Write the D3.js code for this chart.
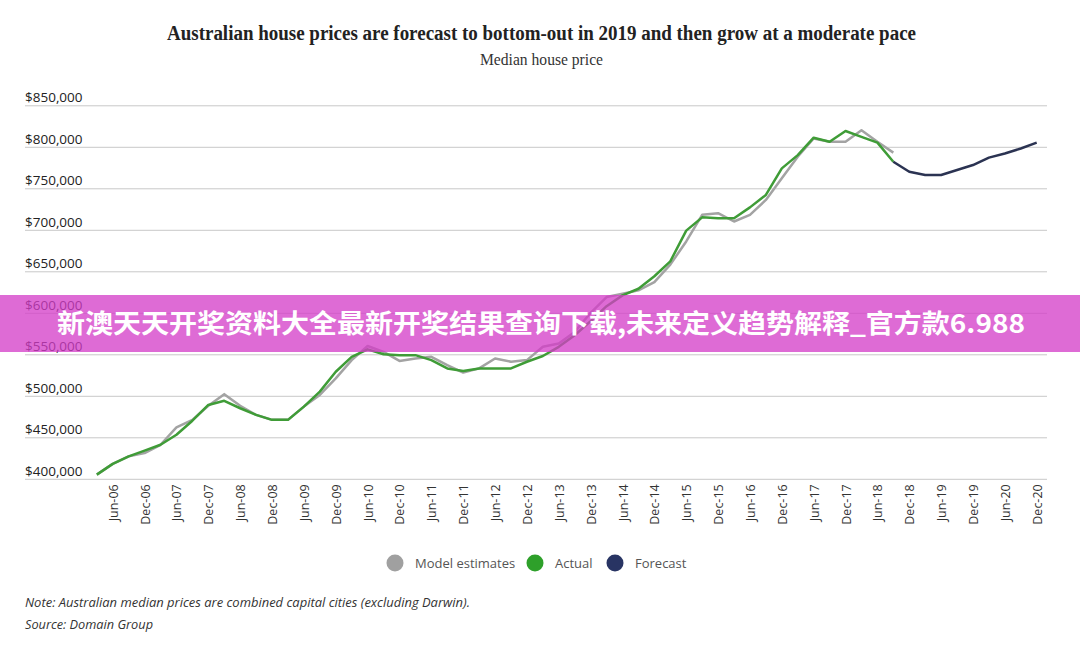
<!DOCTYPE html>
<html>
<head>
<meta charset="utf-8">
<script src="https://cdn.jsdelivr.net/npm/d3@7"></script>
<style>
  html, body { margin: 0; padding: 0; background: #fff; }
  svg { display: block; }
</style>
</head>
<body>
<svg id="chart" width="1080" height="646"></svg>
<script>
// ---------- DATA ----------
const quarters = [
  "Mar-06","Jun-06","Sep-06","Dec-06","Mar-07","Jun-07","Sep-07","Dec-07",
  "Mar-08","Jun-08","Sep-08","Dec-08","Mar-09","Jun-09","Sep-09","Dec-09",
  "Mar-10","Jun-10","Sep-10","Dec-10","Mar-11","Jun-11","Sep-11","Dec-11",
  "Mar-12","Jun-12","Sep-12","Dec-12","Mar-13","Jun-13","Sep-13","Dec-13",
  "Mar-14","Jun-14","Sep-14","Dec-14","Mar-15","Jun-15","Sep-15","Dec-15",
  "Mar-16","Jun-16","Sep-16","Dec-16","Mar-17","Jun-17","Sep-17","Dec-17",
  "Mar-18","Jun-18","Sep-18","Dec-18","Mar-19","Jun-19","Sep-19","Dec-19",
  "Mar-20","Jun-20","Sep-20","Dec-20"
];
const tickLabels = [
  "Jun-06","Dec-06","Jun-07","Dec-07","Jun-08","Dec-08","Jun-09","Dec-09",
  "Jun-10","Dec-10","Jun-11","Dec-11","Jun-12","Dec-12","Jun-13","Dec-13",
  "Jun-14","Dec-14","Jun-15","Dec-15","Jun-16","Dec-16","Jun-17","Dec-17",
  "Jun-18","Dec-18","Jun-19","Dec-19","Jun-20","Dec-20"
];
const yTicks = [400000,450000,500000,550000,600000,650000,700000,750000,800000,850000];

// Model estimates: Mar-06 .. Sep-18
const modelEstimates = [
  405000,418000,427000,431000,441000,462000,471000,488000,
  502000,488000,477000,471000,471000,487000,501000,521000,
  543000,560000,553000,542000,545000,547000,537000,528000,
  533000,545000,541000,543000,559000,563000,577000,600000,
  619000,623000,627000,637000,658000,686000,718000,720000,
  710000,718000,736000,762000,788000,810000,806000,806000,
  820000,806000,793000
];
// Actual: Mar-06 .. Sep-18
const actual = [
  405000,418000,427000,434000,441000,453000,470000,489000,
  494000,485000,477000,471000,471000,487000,505000,529000,
  547000,556000,550000,549000,549000,543000,533000,530000,
  533000,533000,533000,541000,548000,559000,573000,590000,
  608000,621000,629000,644000,662000,699000,715000,714000,
  714000,727000,742000,774000,790000,811000,806000,819000,
  812000,805000,782000
];
// Forecast: Sep-18 .. Dec-20
const forecastQuarters = ["Sep-18","Dec-18","Mar-19","Jun-19","Sep-19","Dec-19","Mar-20","Jun-20","Sep-20","Dec-20"];
const forecast = [782000,770000,766000,766000,772000,778000,787000,792000,798000,805000];

const legendLabels = ["Model estimates","Actual","Forecast"];

// ---------- LAYOUT ----------
const svg = d3.select("#chart");
const W = 1080;
const gridLeft = 25, gridRight = 1047;
const colors = { model: "#a3a3a3", actual: "#3f9c37", forecast: "#2b3352" };
const legendColors = ["#a0a0a0", "#2ea02a", "#283463"];

const x = d3.scalePoint().domain(quarters).range([96.8, 1036.7]).padding(0);
const y = d3.scaleLinear().domain([400000, 850000]).range([478.8, 105.3]);

// Title
svg.append("text")
  .attr("x", 541.5).attr("y", 40)
  .attr("text-anchor", "middle")
  .attr("font-family", "Liberation Serif, serif")
  .attr("font-weight", "bold")
  .attr("font-size", 20)
  .attr("fill", "#222")
  .attr("textLength", 749).attr("lengthAdjust", "spacingAndGlyphs")
  .text("Australian house prices are forecast to bottom-out in 2019 and then grow at a moderate pace");

svg.append("text")
  .attr("x", 541.5).attr("y", 65)
  .attr("text-anchor", "middle")
  .attr("font-family", "Liberation Serif, serif")
  .attr("font-size", 16)
  .attr("fill", "#333")
  .attr("textLength", 123).attr("lengthAdjust", "spacingAndGlyphs")
  .text("Median house price");

// Y axis (gridlines + labels)
const yAxis = d3.axisRight(y)
  .tickValues(yTicks)
  .tickSize(gridRight - gridLeft)
  .tickFormat(d => "$" + d3.format(",")(d));

const gy = svg.append("g")
  .attr("transform", `translate(${gridLeft},0)`)
  .call(yAxis);
gy.select(".domain").remove();
gy.selectAll(".tick line").attr("stroke", "#c8c8c8").attr("stroke-width", 1);
gy.selectAll(".tick text")
  .attr("x", 0).attr("dy", -3.5)
  .attr("text-anchor", "start")
  .attr("dominant-baseline", "alphabetic")
  .attr("font-family", "Open Sans, sans-serif")
  .attr("font-size", 13.5)
  .attr("fill", "#222");

// X axis
const xAxis = d3.axisBottom(x).tickValues(tickLabels).tickSize(0);
const gx = svg.append("g")
  .attr("transform", `translate(0,${y(400000)})`)
  .call(xAxis);
gx.select(".domain").remove();
gx.selectAll(".tick text")
  .attr("transform", "rotate(-90)")
  .attr("x", -5.5).attr("y", 0).attr("dy", "0.36em")
  .attr("text-anchor", "end")
  .attr("font-family", "Open Sans, sans-serif")
  .attr("font-size", 12.5)
  .attr("fill", "#333");

// Lines
const line = d3.line().x(d => x(d.q)).y(d => y(d.v));
const modelData = modelEstimates.map((v, i) => ({ q: quarters[i], v }));
const actualData = actual.map((v, i) => ({ q: quarters[i], v }));
const forecastData = forecast.map((v, i) => ({ q: forecastQuarters[i], v }));

svg.append("path").datum(modelData)
  .attr("d", line).attr("fill", "none")
  .attr("stroke", colors.model).attr("stroke-width", 2.5)
  .attr("stroke-linejoin", "round");
svg.append("path").datum(actualData)
  .attr("d", line).attr("fill", "none")
  .attr("stroke", colors.actual).attr("stroke-width", 2.5)
  .attr("stroke-linejoin", "round");
svg.append("path").datum(forecastData)
  .attr("d", line).attr("fill", "none")
  .attr("stroke", colors.forecast).attr("stroke-width", 2.5)
  .attr("stroke-linejoin", "round");

// Legend
const legendX = [395, 535, 615];
const lg = svg.append("g");
legendLabels.forEach((lab, i) => {
  lg.append("circle").attr("cx", legendX[i]).attr("cy", 563).attr("r", 8.5).attr("fill", legendColors[i]);
  lg.append("text").attr("x", legendX[i] + 20).attr("y", 568)
    .attr("font-family", "Open Sans, sans-serif").attr("font-size", 13)
    .attr("fill", "#555").text(lab);
});

// Notes
svg.append("text").attr("x", 25).attr("y", 607)
  .attr("font-family", "Open Sans, sans-serif").attr("font-style", "italic")
  .attr("font-size", 12.5).attr("fill", "#333")
  .attr("textLength", 445).attr("lengthAdjust", "spacingAndGlyphs")
  .text("Note: Australian median prices are combined capital cities (excluding Darwin).");
svg.append("text").attr("x", 25).attr("y", 629)
  .attr("font-family", "Open Sans, sans-serif").attr("font-style", "italic")
  .attr("font-size", 12.5).attr("fill", "#333")
  .attr("textLength", 128).attr("lengthAdjust", "spacingAndGlyphs")
  .text("Source: Domain Group");

// Overlay banner (semi-transparent, as in the reference)
svg.append("rect").attr("x", 0).attr("y", 295).attr("width", W).attr("height", 57)
  .attr("fill", "rgb(212,60,200)").attr("fill-opacity", 0.76);
svg.append("text").attr("x", 541).attr("y", 333)
  .attr("text-anchor", "middle")
  .attr("font-family", "Noto Sans CJK SC, sans-serif")
  .attr("font-weight", "bold").attr("font-size", 26)
  .attr("fill", "#fff")
  .attr("textLength", 968).attr("lengthAdjust", "spacingAndGlyphs")
  .text("新澳天天开奖资料大全最新开奖结果查询下载,未来定义趋势解释_官方款6.988");
</script>
</body>
</html>
